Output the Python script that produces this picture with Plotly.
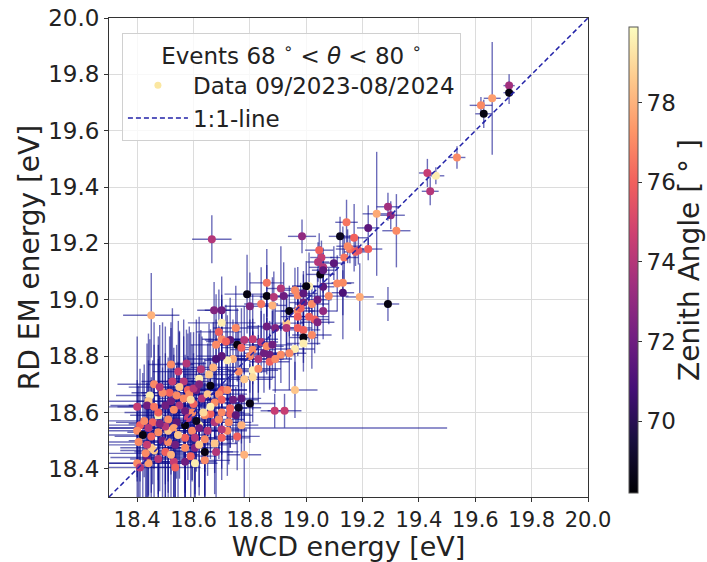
import plotly.graph_objects as go

# ---------------- data ----------------
wcd_energy = [
    # isolated / high-energy events
    18.45, 18.665, 18.985, 19.29, 19.143, 19.12, 19.17, 19.22, 19.25, 19.29,
    19.30, 19.32, 19.155, 19.175, 19.185, 19.22, 19.135, 19.13, 19.13, 19.19,
    19.43, 19.46, 19.44, 19.535, 19.62, 19.66, 19.63, 19.72, 19.72, 19.046,
    19.054, 19.042, 19.098, 19.06, 19.147,
    # band 18.75 - 19.15
    19.05, 19.06, 19.01, 19.0, 19.06, 19.11, 18.86, 18.91, 18.96, 18.97,
    18.79, 18.86, 18.885, 18.92, 18.99, 19.08, 18.84, 18.88, 18.80, 18.94,
    18.97, 18.99, 19.02, 19.04, 19.01, 19.03, 19.04, 19.06, 18.97, 18.98,
    18.75, 18.93, 18.86, 18.89, 18.93, 18.97, 18.99, 19.02, 18.99, 18.99,
    18.96, 18.94, 18.91, 18.87, 18.85, 18.84, 18.81, 18.78, 18.755, 18.73,
    18.86, 18.88, 18.81, 18.77, 18.83, 18.80, 18.87, 18.89, 18.81, 18.81,
    18.78, 18.83, 18.74, 18.76,
    # dense low-energy cluster
    18.52, 18.575, 18.546, 18.626, 18.673, 18.70, 18.70, 18.69, 18.70, 18.68,
    18.715, 18.72, 18.70, 18.68, 18.96, 18.888, 18.923, 18.80, 18.76, 18.77,
    18.74, 18.77, 18.755, 18.78, 18.66, 18.655, 18.67, 18.62, 18.70, 18.72,
    18.69, 18.70, 18.63, 18.60, 18.61, 18.58, 18.565, 18.525, 18.515, 18.54,
    18.49, 18.46, 18.445, 18.44, 18.475, 18.435, 18.40, 18.41, 18.40, 18.42,
    18.405, 18.40, 18.41, 18.435, 18.45, 18.475, 18.49, 18.51, 18.50, 18.53,
    18.535, 18.57, 18.605, 18.64, 18.64, 18.675, 18.70, 18.72, 18.70, 18.725,
    18.675, 18.66, 18.64, 18.62, 18.635, 18.595, 18.57, 18.55, 18.53, 18.50,
    18.475, 18.51, 18.54, 18.57, 18.595, 18.605, 18.57, 18.545, 18.535, 18.57,
    18.605, 18.64, 18.65, 18.455, 18.44, 18.475, 18.45, 18.435, 18.46, 18.43,
    18.51, 18.50, 18.425, 18.565, 18.585, 18.60, 18.65, 18.675, 18.73, 18.70,
    18.73, 18.69, 18.75, 18.62, 18.48, 18.55, 18.62, 18.59, 18.52, 18.46,
    18.48, 18.52, 18.59, 18.62, 18.68, 18.44, 18.58, 18.61, 18.53, 18.66,
]

rd_em_energy = [
    18.945, 19.215, 19.225, 18.985, 19.275, 19.225, 19.22, 19.255, 19.305, 19.33,
    19.30, 19.245, 19.18, 19.17, 19.175, 19.18, 19.15, 19.06, 19.025, 19.01,
    19.45, 19.44, 19.385, 19.505, 19.69, 19.715, 19.66, 19.76, 19.735, 19.176,
    19.15, 19.134, 19.13, 19.115, 19.19,
    19.09, 19.105, 19.048, 19.048, 19.046, 19.058, 19.06, 19.04, 19.034, 19.016,
    19.02, 19.013, 19.01, 19.013, 19.022, 19.013, 18.985, 18.98, 18.977, 18.96,
    18.96, 18.99, 18.985, 19.0, 18.94, 18.93, 18.92, 18.96, 18.94, 18.97,
    18.90, 18.917, 18.905, 18.90, 18.90, 18.90, 18.893, 18.875, 18.866, 18.845,
    18.825, 18.81, 18.805, 18.805, 18.81, 18.85, 18.86, 18.857, 18.84, 18.857,
    18.835, 18.84, 18.823, 18.83, 18.79, 18.80, 18.78, 18.79, 18.75, 18.725,
    18.718, 18.755, 18.79, 18.745,
    18.77, 18.774, 18.745, 18.753, 18.963, 18.963, 18.918, 18.886, 18.86, 18.84,
    18.852, 18.785, 18.80, 18.79, 18.68, 18.606, 18.606, 18.632, 18.617, 18.65,
    18.645, 18.555, 18.515, 18.45, 18.695, 18.735, 18.76, 18.72, 18.68, 18.68,
    18.665, 18.645, 18.65, 18.63, 18.68, 18.68, 18.71, 18.71, 18.67, 18.66,
    18.67, 18.70, 18.66, 18.64, 18.59, 18.625, 18.62, 18.555, 18.535, 18.52,
    18.495, 18.42, 18.405, 18.44, 18.475, 18.435, 18.50, 18.495, 18.46, 18.425,
    18.405, 18.425, 18.42, 18.46, 18.43, 18.49, 18.51, 18.535, 18.54, 18.565,
    18.565, 18.595, 18.59, 18.555, 18.60, 18.60, 18.605, 18.625, 18.61, 18.625,
    18.60, 18.575, 18.565, 18.555, 18.535, 18.51, 18.51, 18.52, 18.485, 18.475,
    18.475, 18.505, 18.535, 18.565, 18.545, 18.53, 18.515, 18.485, 18.465, 18.455,
    18.535, 18.55, 18.57, 18.65, 18.665, 18.685, 18.665, 18.635, 18.615, 18.60,
    18.595, 18.575, 18.59, 18.545, 18.69, 18.69, 18.70, 18.645, 18.64, 18.62,
    18.56, 18.45, 18.445, 18.485, 18.46, 18.42, 18.58, 18.57, 18.545, 18.62,
]

zenith_deg = [
    78.0, 74.0, 73.0, 68.5, 76.5, 68.8, 76.0, 71.5, 77.8, 73.5,
    73.0, 77.0, 76.5, 76.0, 75.5, 76.0, 76.5, 77.0, 71.0, 77.8,
    74.5, 79.5, 74.0, 77.0, 77.0, 77.5, 68.5, 73.5, 68.5, 76.0,
    74.5, 74.0, 71.5, 74.0, 77.0,
    68.5, 71.5, 79.5, 68.5, 71.5, 77.0, 76.5, 74.0, 77.0, 77.0,
    68.5, 68.5, 74.0, 72.0, 71.5, 77.0, 76.5, 78.0, 72.5, 68.5,
    77.0, 72.0, 77.0, 72.0, 76.0, 76.0, 72.5, 73.0, 76.0, 76.0,
    77.0, 78.5, 72.0, 72.5, 74.0, 76.0, 76.0, 77.0, 68.5, 79.5,
    79.5, 77.0, 77.0, 72.0, 72.0, 74.0, 74.5, 74.0, 68.5, 71.5,
    77.0, 72.0, 77.0, 76.0, 74.0, 77.0, 76.0, 77.0, 79.5, 79.0,
    78.5, 77.0, 78.0, 77.0,
    77.0, 74.0, 74.5, 74.0, 72.5, 72.0, 79.5, 76.0, 77.0, 77.0,
    76.0, 79.5, 71.5, 71.0, 78.5, 74.5, 74.5, 68.5, 69.0, 71.5,
    72.0, 78.0, 76.0, 78.0, 68.5, 78.5, 78.0, 79.5, 76.0, 77.0,
    77.0, 76.0, 74.0, 76.0, 72.0, 76.0, 74.0, 74.5, 76.0, 77.0,
    77.0, 77.0, 79.5, 78.5, 79.5, 72.0, 74.5, 76.0, 77.0, 68.5,
    77.0, 77.0, 74.0, 72.0, 78.5, 74.0, 72.0, 77.0, 76.0, 74.5,
    76.0, 72.0, 79.5, 68.5, 77.0, 78.5, 76.0, 77.0, 74.0, 77.0,
    74.0, 76.0, 77.0, 79.5, 79.0, 77.0, 72.0, 74.0, 77.0, 72.0,
    76.0, 77.0, 71.5, 68.5, 77.0, 74.0, 76.0, 78.5, 72.0, 77.0,
    72.5, 77.0, 74.0, 76.0, 74.0, 77.0, 76.0, 74.5, 78.5, 77.0,
    78.5, 74.0, 77.0, 77.0, 77.0, 74.0, 78.5, 77.0, 76.0, 77.0,
    76.0, 77.0, 71.5, 72.0, 74.0, 78.5, 72.5, 79.0, 72.0, 76.5,
    72.5, 78.0, 76.0, 78.5, 74.0, 77.5, 74.5, 68.8, 77.5, 79.5,
]

wcd_err = [
    0.10, 0.07, 0.05, 0.04, 0.04, 0.04, 0.05, 0.04, 0.05, 0.04,
    0.05, 0.05, 0.05, 0.04, 0.04, 0.05, 0.05, 0.04, 0.04, 0.05,
    0.03, 0.03, 0.03, 0.03, 0.04, 0.03, 0.03, 0.02, 0.02, 0.05,
    0.04, 0.04, 0.04, 0.05, 0.04,
    0.05, 0.04, 0.06, 0.05, 0.04, 0.05, 0.06, 0.05, 0.04, 0.05,
    0.08, 0.06, 0.05, 0.06, 0.05, 0.07, 0.06, 0.05, 0.09, 0.05,
    0.06, 0.05, 0.06, 0.05, 0.07, 0.05, 0.06, 0.05, 0.06, 0.04,
    0.08, 0.06, 0.07, 0.05, 0.06, 0.05, 0.06, 0.07, 0.05, 0.06,
    0.07, 0.06, 0.05, 0.08, 0.07, 0.06, 0.09, 0.07, 0.08, 0.09,
    0.06, 0.07, 0.08, 0.07, 0.09, 0.08, 0.07, 0.06, 0.09, 0.08,
    0.10, 0.08, 0.09, 0.10,
    0.08, 0.07, 0.09, 0.10, 0.06, 0.06, 0.12, 0.08, 0.07, 0.09,
    0.07, 0.08, 0.09, 0.10, 0.08, 0.05, 0.06, 0.09, 0.08, 0.07,
    0.09, 0.06, 0.08, 0.06, 0.10, 0.09, 0.08, 0.11, 0.09, 0.07,
    0.10, 0.08, 0.11, 0.09, 0.12, 0.10, 0.09, 0.11, 0.10, 0.12,
    0.11, 0.13, 0.12, 0.14, 0.10, 0.13, 0.15, 0.14, 0.12, 0.13,
    0.15, 0.12, 0.14, 0.13, 0.11, 0.10, 0.12, 0.09, 0.11, 0.10,
    0.09, 0.11, 0.08, 0.10, 0.09, 0.08, 0.10, 0.07, 0.09, 0.08,
    0.10, 0.09, 0.11, 0.08, 0.12, 0.10, 0.09, 0.11, 0.10, 0.13,
    0.12, 0.10, 0.11, 0.09, 0.10, 0.08, 0.09, 0.11, 0.10, 0.08,
    0.09, 0.10, 0.08, 0.13, 0.14, 0.11, 0.13, 0.15, 0.12, 0.14,
    0.10, 0.11, 0.14, 0.09, 0.08, 0.10, 0.07, 0.09, 0.06, 0.08,
    0.07, 0.09, 0.06, 0.88, 0.11, 0.09, 0.10, 0.08, 0.12, 0.13,
    0.11, 0.10, 0.09, 0.10, 0.08, 0.14, 0.09, 0.10, 0.11, 0.09,
]

rd_err = [
    0.15, 0.085, 0.06, 0.06, 0.08, 0.07, 0.12, 0.08, 0.22, 0.05,
    0.05, 0.13, 0.05, 0.05, 0.05, 0.04, 0.08, 0.20, 0.08, 0.12,
    0.05, 0.03, 0.05, 0.04, 0.03, 0.20, 0.05, 0.04, 0.04, 0.06,
    0.06, 0.07, 0.06, 0.05, 0.06,
    0.10, 0.08, 0.12, 0.09, 0.07, 0.10, 0.12, 0.15, 0.08, 0.10,
    0.14, 0.11, 0.09, 0.12, 0.08, 0.10, 0.13, 0.10, 0.12, 0.09,
    0.08, 0.10, 0.07, 0.11, 0.09, 0.12, 0.08, 0.10, 0.07, 0.09,
    0.15, 0.10, 0.12, 0.09, 0.11, 0.10, 0.08, 0.12, 0.09, 0.10,
    0.11, 0.13, 0.10, 0.12, 0.14, 0.11, 0.16, 0.12, 0.13, 0.15,
    0.10, 0.12, 0.11, 0.14, 0.12, 0.13, 0.10, 0.12, 0.14, 0.16,
    0.15, 0.12, 0.14, 0.17,
    0.15, 0.12, 0.18, 0.14, 0.10, 0.12, 0.10, 0.15, 0.14, 0.18,
    0.13, 0.16, 0.15, 0.14, 0.10, 0.06, 0.06, 0.14, 0.12, 0.16,
    0.15, 0.10, 0.12, 0.16, 0.20, 0.18, 0.16, 0.22, 0.14, 0.18,
    0.20, 0.16, 0.22, 0.18, 0.25, 0.20, 0.22, 0.26, 0.20, 0.18,
    0.25, 0.22, 0.20, 0.24, 0.28, 0.22, 0.25, 0.20, 0.18, 0.22,
    0.20, 0.18, 0.22, 0.20, 0.25, 0.18, 0.26, 0.22, 0.20, 0.24,
    0.20, 0.22, 0.18, 0.20, 0.16, 0.18, 0.15, 0.16, 0.14, 0.15,
    0.18, 0.16, 0.20, 0.22, 0.18, 0.24, 0.20, 0.26, 0.22, 0.28,
    0.24, 0.22, 0.20, 0.24, 0.18, 0.20, 0.22, 0.26, 0.20, 0.22,
    0.18, 0.20, 0.16, 0.22, 0.24, 0.26, 0.20, 0.22, 0.24, 0.20,
    0.22, 0.26, 0.20, 0.22, 0.24, 0.20, 0.18, 0.16, 0.14, 0.15,
    0.12, 0.14, 0.10, 0.04, 0.22, 0.20, 0.18, 0.24, 0.26, 0.22,
    0.24, 0.20, 0.22, 0.18, 0.16, 0.20, 0.22, 0.18, 0.26, 0.16,
]

one_to_one = [18.3, 20.0]
axis_range = [18.3, 20.0]
colorbar_ticks = [70, 72, 74, 76, 78]
zenith_range = [68.2, 79.9]

n = len(wcd_energy)
assert len(rd_em_energy) == n and len(zenith_deg) == n, (n, len(rd_em_energy), len(zenith_deg))
assert len(wcd_err) == n and len(rd_err) == n, (n, len(wcd_err), len(rd_err))

FONT = "DejaVu Sans"
ERR_COLOR = "rgba(10,10,140,0.6)"

fig = go.Figure()

# error bars (drawn below the coloured markers)
fig.add_trace(go.Scatter(
    x=wcd_energy, y=rd_em_energy, mode="markers",
    marker=dict(size=1, opacity=0),
    error_x=dict(type="data", array=wcd_err, color=ERR_COLOR, thickness=1.4, width=0),
    error_y=dict(type="data", array=rd_err, color=ERR_COLOR, thickness=1.4, width=0),
    showlegend=False, hoverinfo="skip",
))

# coloured markers
fig.add_trace(go.Scatter(
    x=wcd_energy, y=rd_em_energy, mode="markers",
    marker=dict(
        size=8, color=zenith_deg, colorscale="Magma",
        cmin=zenith_range[0], cmax=zenith_range[1],
        line=dict(width=0),
        colorbar=dict(
            thickness=9, len=486, lenmode="pixels",
            x=1.065, xanchor="left", y=0.495, yanchor="middle",
            tickvals=colorbar_ticks, ticks="outside", ticklen=4,
            tickcolor="#333", outlinecolor="#555", outlinewidth=1,
            tickfont=dict(family=FONT, size=23, color="#222"),
        ),
    ),
    showlegend=False,
))

# 1:1 line
fig.add_trace(go.Scatter(
    x=one_to_one, y=one_to_one, mode="lines",
    line=dict(color="#2222a8", width=1.5, dash="5px,3px"),
    name="1:1-line", legendrank=2,
))

# legend entry for the data
fig.add_trace(go.Scatter(
    x=[None], y=[None], mode="markers",
    marker=dict(size=7, color="#fbe7a1"),
    name="Data 09/2023-08/2024", legendrank=1,
))

axis_common = dict(
    range=axis_range, dtick=0.2, tick0=18.4, tickformat=".1f",
    showgrid=True, gridcolor="#dcdcdc", gridwidth=1,
    showline=True, linecolor="#333", linewidth=1, mirror=True,
    ticks="outside", ticklen=4, tickcolor="#333",
    zeroline=False,
)

fig.update_layout(
    width=707, height=562,
    margin=dict(l=109, r=119, t=18, b=65, autoexpand=False),
    paper_bgcolor="white", plot_bgcolor="white",
    font=dict(family=FONT, color="#222"),
    xaxis=dict(**axis_common,
               tickfont=dict(family=FONT, size=21, color="#222"),
               title=dict(text="WCD energy [eV]", font=dict(family=FONT, size=27), standoff=4)),
    yaxis=dict(**axis_common,
               tickfont=dict(family=FONT, size=23, color="#222"),
               title=dict(text="RD EM energy [eV]", font=dict(family=FONT, size=28), standoff=0)),
    legend=dict(
        x=0.027, y=0.969, xanchor="left", yanchor="top",
        bgcolor="rgba(255,255,255,0.8)", bordercolor="#d0d0d0", borderwidth=1,
        font=dict(family=FONT, size=23, color="#222"),
        title=dict(text="Events 68 <sup>∘</sup> < <i>θ</i> < 80 <sup>∘</sup>", side="top center",
                   font=dict(family=FONT, size=23, color="#222")),
        itemwidth=60,
    ),
    annotations=[dict(
        text="Zenith Angle [ ° ]", textangle=-90,
        xref="paper", yref="paper", x=1.213, y=0.495,
        xanchor="center", yanchor="middle", showarrow=False,
        font=dict(family=FONT, size=28, color="#222"),
    )],
    showlegend=True,
)

fig.write_html("out.html")
